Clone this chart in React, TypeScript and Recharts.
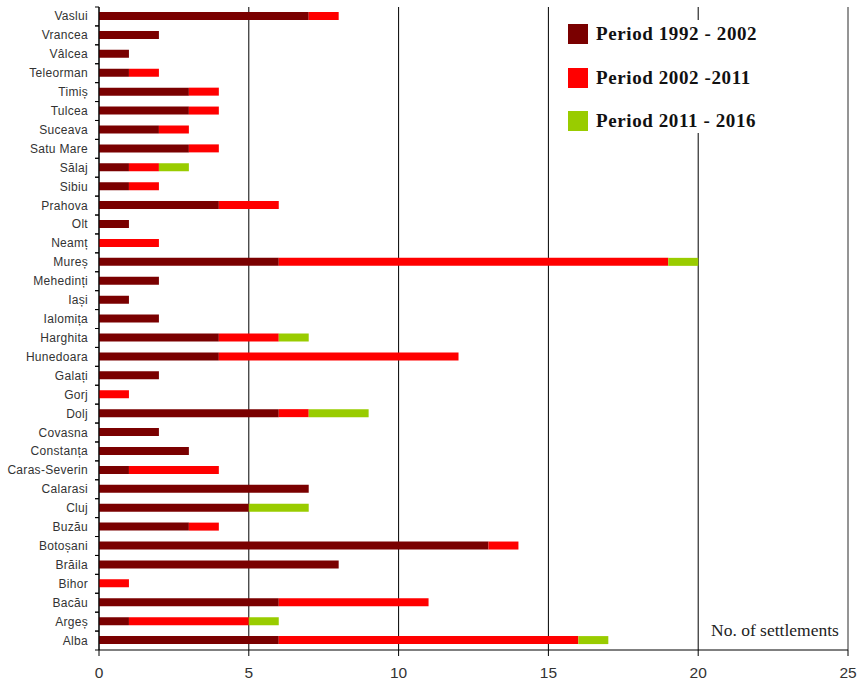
import { BarChart, Bar, XAxis, YAxis, Legend, CartesianGrid, ReferenceLine } from "recharts";

const counties = [
  "Vaslui", "Vrancea", "Vâlcea", "Teleorman", "Timiș", "Tulcea", "Suceava", "Satu Mare",
  "Sălaj", "Sibiu", "Prahova", "Olt", "Neamț", "Mureș", "Mehedinți", "Iași", "Ialomița",
  "Harghita", "Hunedoara", "Galați", "Gorj", "Dolj", "Covasna", "Constanța", "Caras-Severin",
  "Calarasi", "Cluj", "Buzău", "Botoșani", "Brăila", "Bihor", "Bacău", "Argeș", "Alba",
];
const period1992 = [7, 2, 1, 1, 3, 3, 2, 3, 1, 1, 4, 1, 0, 6, 2, 1, 2, 4, 4, 2, 0, 6, 2, 3, 1, 7, 5, 3, 13, 8, 0, 6, 1, 6];
const period2002 = [1, 0, 0, 1, 1, 1, 1, 1, 1, 1, 2, 0, 2, 13, 0, 0, 0, 2, 8, 0, 1, 1, 0, 0, 3, 0, 0, 1, 1, 0, 1, 5, 4, 10];
const period2011 = [0, 0, 0, 0, 0, 0, 0, 0, 1, 0, 0, 0, 0, 1, 0, 0, 0, 1, 0, 0, 0, 2, 0, 0, 0, 0, 2, 0, 0, 0, 0, 0, 1, 1];
const xTicks = [0, 5, 10, 15, 20, 25];

const data = counties.map((name, i) => ({
  name,
  a: period1992[i],
  b: period2002[i],
  c: period2011[i],
}));

const W = 859;
const H = 682;
const TOP = 7;
const X_AXIS_H = 32;
const HALF_BAND = (H - TOP - X_AXIS_H) / counties.length / 2;

function CountyTick({ x, y, payload }: any) {
  return (
    <g>
      <line x1={x - 4} x2={x} y1={y - HALF_BAND} y2={y - HALF_BAND} stroke="#000" />
      <line x1={x - 4} x2={x} y1={y + HALF_BAND} y2={y + HALF_BAND} stroke="#000" />
      <text
        x={x - 11}
        y={y}
        dy={4}
        textAnchor="end"
        fontSize={12}
        letterSpacing={0.3}
        fill="#333"
        fontFamily="'Liberation Sans', Arial, sans-serif"
      >
        {payload.value}
      </text>
    </g>
  );
}

function PeriodLegend({ payload }: any) {
  return (
    <div style={{ position: "relative", width: 290, height: 113, background: "#fff" }}>
      {(payload || []).map((p: any, i: number) => (
        <div
          key={p.value}
          style={{
            position: "absolute",
            left: 16,
            top: 4 + i * 43.5,
            height: 20,
            display: "flex",
            alignItems: "center",
            whiteSpace: "nowrap",
          }}
        >
          <span style={{ width: 20, height: 20, background: p.color, marginRight: 8 }} />
          <span
            style={{
              fontFamily: "'Liberation Serif', 'Times New Roman', serif",
              fontWeight: "bold",
              fontSize: 19,
              letterSpacing: 0.6,
              color: "#111",
            }}
          >
            {p.value}
          </span>
        </div>
      ))}
    </div>
  );
}

export default function App() {
  return (
    <div style={{ position: "absolute", left: 0, top: 0, width: W, height: H, background: "#fff" }}>
      <BarChart
        width={W}
        height={H}
        data={data}
        layout="vertical"
        margin={{ top: TOP, right: 11, bottom: 0, left: 0 }}
      >
        <CartesianGrid horizontal={false} stroke="#000" />
        <XAxis
          type="number"
          domain={[0, 25]}
          ticks={xTicks}
          height={X_AXIS_H}
          tickSize={6}
          tickMargin={11}
          axisLine={{ stroke: "#000" }}
          tickLine={{ stroke: "#000" }}
          tick={{ fontSize: 15.5, fill: "#333", fontFamily: "'Liberation Sans', Arial, sans-serif" }}
        />
        <XAxis
          xAxisId="top"
          orientation="top"
          type="number"
          domain={[0, 25]}
          height={0}
          tick={false}
          tickLine={false}
          axisLine={{ stroke: "#aaa" }}
        />
        <YAxis
          type="category"
          dataKey="name"
          width={99}
          interval={0}
          tickSize={0}
          tickMargin={0}
          tickLine={false}
          axisLine={{ stroke: "#000" }}
          tick={<CountyTick />}
        />
        <ReferenceLine x={25} stroke="#aaa" />
        <Bar dataKey="a" name="Period 1992 - 2002" stackId="s" fill="#7a0000" barSize={8} isAnimationActive={false} />
        <Bar dataKey="b" name="Period 2002 -2011" stackId="s" fill="#ff0000" barSize={8} isAnimationActive={false} />
        <Bar dataKey="c" name="Period 2011 - 2016" stackId="s" fill="#99cc00" barSize={8} isAnimationActive={false} />
        <Legend
          layout="vertical"
          align="center"
          verticalAlign="middle"
          wrapperStyle={{ top: 20, left: 552, width: 290, height: 113 }}
          content={PeriodLegend}
        />
      </BarChart>
      <div
        style={{
          position: "absolute",
          left: 711,
          top: 620,
          fontFamily: "'Liberation Serif', 'Times New Roman', serif",
          fontSize: 17.5,
          color: "#222",
          whiteSpace: "nowrap",
        }}
      >
        No. of settlements
      </div>
    </div>
  );
}
